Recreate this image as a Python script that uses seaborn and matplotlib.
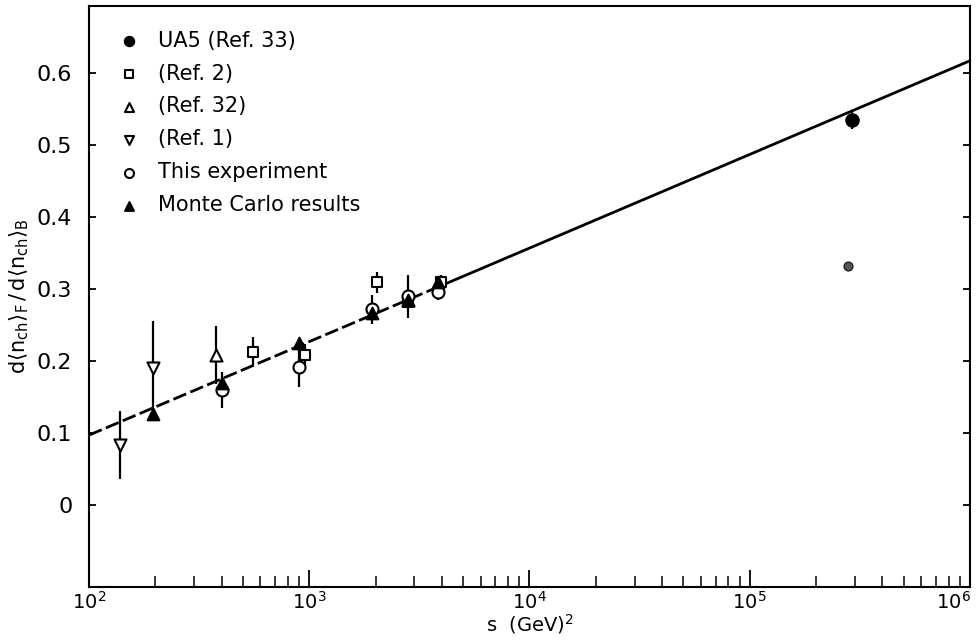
"""
Forward/backward charged multiplicity slope vs s, with fit line and legend.
"""

import matplotlib
matplotlib.use("Agg")
import matplotlib.pyplot as plt
import matplotlib.transforms as mtransforms
import pandas as pd
import seaborn as sns

# --- data ---
ua5_s = [2.916e5]
ua5_y = [0.535]
ua5_err = [0.013]

ref2_s = [557, 961, 2025, 2809, 3969]
ref2_y = [0.213, 0.208, 0.309, 0.282, 0.309]
ref2_err = [0.02, 0.015, 0.014, 0.0, 0.01]

ref32_s = [376, 2809]
ref32_y = [0.208, 0.285]
ref32_err = [0.04, 0.0]

ref1_s = [138, 196]
ref1_y = [0.083, 0.19]
ref1_err = [0.047, 0.065]

this_s = [400, 900, 1936, 2809, 3844]
this_y = [0.16, 0.191, 0.272, 0.29, 0.296]
this_err = [0.025, 0.027, 0.02, 0.03, 0.012]

mc_s = [196, 400, 900, 1936, 2809, 3844]
mc_y = [0.127, 0.17, 0.225, 0.266, 0.285, 0.309]

smudge_s = [2.79e5]
smudge_y = [0.332]

# fitted line: dashed over the data range, solid extrapolation
fit_s = [1e2, 4e3, 1e6]
fit_y = [0.097, 0.305, 0.617]

sns.set_theme(style="ticks")
plt.rcParams.update({
    "font.family": ["DejaVu Sans"],
    "mathtext.default": "regular",
    "text.color": "black",
    "axes.labelcolor": "black",
    "axes.edgecolor": "black",
    "xtick.color": "black",
    "ytick.color": "black",
    "axes.linewidth": 1.5,
    "xtick.major.width": 1.3,
    "xtick.minor.width": 1.1,
    "ytick.major.width": 1.3,
})

fig = plt.figure(figsize=(9.8, 6.41), dpi=100)
ax = fig.add_axes([0.0908, 0.0842, 0.899, 0.9064])

# fit line
fit_df = pd.DataFrame({"s": fit_s, "y": fit_y})
ax.plot(fit_df["s"][:2], fit_df["y"][:2], color="black", lw=2,
        linestyle=(0, (5, 1.6)), zorder=1)
ax.plot(fit_df["s"][1:], fit_df["y"][1:], color="black", lw=2, zorder=1)

# error bars
for xs, ys, es in [(ua5_s, ua5_y, ua5_err), (ref2_s, ref2_y, ref2_err),
                   (ref32_s, ref32_y, ref32_err), (ref1_s, ref1_y, ref1_err),
                   (this_s, this_y, this_err)]:
    ax.errorbar(xs, ys, yerr=es, fmt="none", ecolor="black", elinewidth=1.6,
                capsize=0, zorder=2)

groups = [
    ("UA5 (Ref. 33)", ua5_s, ua5_y, "o", "black", 80),
    ("(Ref. 2)", ref2_s, ref2_y, "s", "white", 60),
    ("(Ref. 32)", ref32_s, ref32_y, "^", "white", 75),
    ("(Ref. 1)", ref1_s, ref1_y, "v", "white", 75),
    ("This experiment", this_s, this_y, "o", "white", 75),
    ("Monte Carlo results", mc_s, mc_y, "^", "black", 70),
]
for label, xs, ys, mk, fc, sz in groups:
    df = pd.DataFrame({"s": xs, "y": ys})
    sns.scatterplot(data=df, x="s", y="y", marker=mk, s=sz, color=fc,
                    edgecolor="black", linewidth=1.5, label=label, ax=ax,
                    zorder=3)

sns.scatterplot(x=smudge_s, y=smudge_y, marker="o", s=40, color="#555555",
                edgecolor="#222222", linewidth=1.0, ax=ax, zorder=3)

ax.set_xscale("log")
ax.set_xlim(1e2, 1e6)
ax.set_ylim(-0.114, 0.693)
ax.set_yticks([0, 0.1, 0.2, 0.3, 0.4, 0.5, 0.6])
ax.set_yticklabels(["0", "0.1", "0.2", "0.3", "0.4", "0.5", "0.6"])

ax.tick_params(axis="x", which="major", direction="in", length=12,
               labelsize=14, pad=3, top=False)
ax.tick_params(axis="x", which="minor", direction="in", length=8, top=False)
ax.tick_params(axis="y", which="major", direction="in", length=5,
               labelsize=16, left=True, right=True, pad=12)
ax.tick_params(axis="y", which="minor", left=False, right=False)

# keep the last decade label inside the canvas, as in the original
fig.canvas.draw()
shift = mtransforms.ScaledTranslation(-12 / 72, 0, fig.dpi_scale_trans)
for lab in ax.get_xticklabels():
    if lab.get_text().endswith("{6}}$"):
        lab.set_transform(lab.get_transform() + shift)

ax.set_xlabel("s  (GeV)$^2$", fontsize=14, labelpad=-1)
ax.set_ylabel(r"$d\langle n_{ch}\rangle_F\,/\,d\langle n_{ch}\rangle_B$",
              fontsize=15, labelpad=4)

leg = ax.legend(loc="upper left", frameon=False, fontsize=15,
                handletextpad=0.4, labelspacing=0.62, markerscale=0.75,
                borderaxespad=0.5, bbox_to_anchor=(0.0, 0.99))

fig.savefig("out.png", dpi=100)
plt.close(fig)
